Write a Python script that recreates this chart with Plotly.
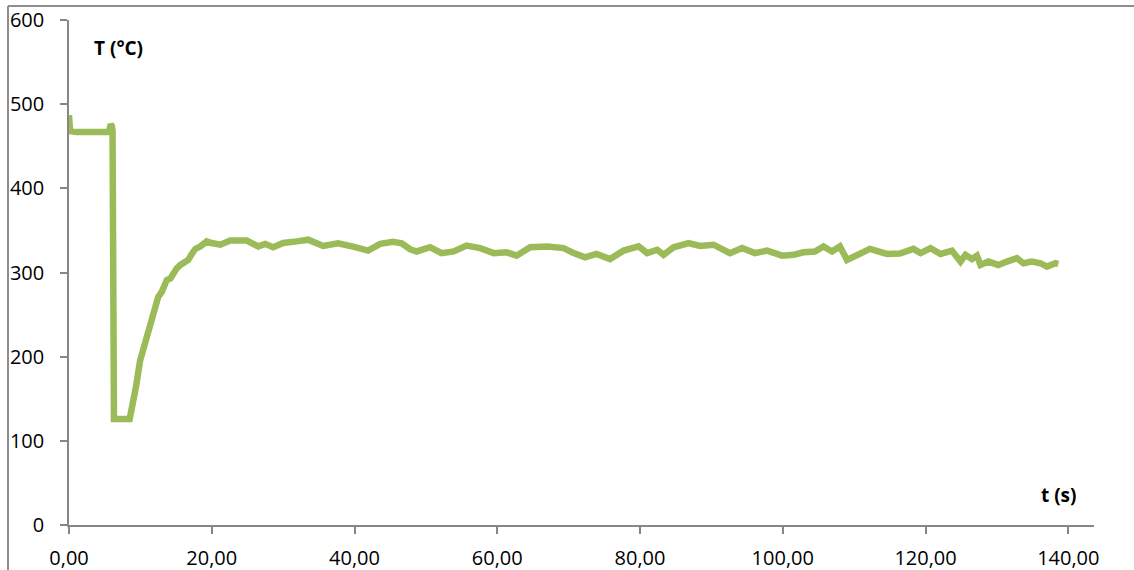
import plotly.graph_objects as go

# Time (s) and temperature (°C) of the recorded cooling curve
time_s = [
    0.0, 0.15, 1.0, 3.0, 5.6, 5.85, 6.0, 6.1, 6.3, 8.5, 8.9, 9.4, 9.95, 10.5,
    10.9, 11.3, 11.8, 12.2, 12.5, 13.0, 13.7, 14.2, 14.6, 15.1, 15.6, 16.2,
    16.7, 17.2, 17.7, 18.4, 19.0, 19.3, 20.0, 21.2, 22.6, 24.0, 24.9, 26.5,
    27.5, 28.6, 30.0, 31.9, 33.5, 35.6, 37.7, 39.8, 41.9, 43.6, 45.4, 46.6,
    47.8, 48.7, 50.6, 52.2, 53.9, 55.7, 57.6, 59.5, 61.3, 62.7, 64.6, 67.0,
    69.3, 70.7, 72.3, 73.9, 75.8, 77.7, 79.8, 81.0, 82.4, 83.3, 84.7, 86.8,
    88.4, 90.3, 92.6, 94.3, 96.1, 97.8, 99.9, 101.5, 102.9, 104.5, 105.7,
    106.9, 108.0, 109.0, 110.8, 112.2, 114.6, 116.4, 118.3, 119.3, 120.7,
    122.1, 123.7, 124.9, 125.6, 126.5, 127.2, 127.7, 128.8, 130.2, 131.4,
    132.8, 133.7, 134.9, 136.1, 137.0, 138.2, 138.6,
]
temp_c = [
    487, 468, 467, 467, 467, 476, 474, 468, 126, 126, 140, 165, 195, 212,
    224, 238, 252, 262, 271, 277, 291, 293, 300, 305, 309, 312,
    315, 322, 328, 331, 335, 337, 335, 333, 338, 337, 338, 331,
    334, 330, 335, 337, 339, 331.5, 334.7, 330.7, 326, 334, 336.6, 334.7,
    327.6, 325, 330, 323, 325, 332, 329, 323, 324, 320, 330, 331,
    329, 323, 318, 322, 316, 326, 331, 323, 327, 321, 330, 335,
    331.5, 333, 323, 329, 323, 326, 320, 321, 324, 325, 331,
    325, 331, 315, 322, 328, 322, 322.5, 328, 323, 329,
    322, 326, 313, 321, 316, 320, 309, 313, 309, 313,
    317, 311, 313, 311, 307, 311, 310,
]

x_ticks = [0, 20, 40, 60, 80, 100, 120, 140]
x_tick_text = ["0,00", "20,00", "40,00", "60,00", "80,00", "100,00", "120,00", "140,00"]
y_ticks = [0, 100, 200, 300, 400, 500, 600]

W, H = 1134, 570
L, R, T, B = 69, 40, 20, 45
plot_w = W - L - R
plot_h = H - T - B

def px_to_paper(px, py):
    return (px - L) / plot_w, (H - B - py) / plot_h

axis_color = "#868686"
font_family = "Open Sans, Lato, sans-serif"

fig = go.Figure()
fig.add_trace(go.Scatter(
    x=time_s, y=temp_c, mode="lines",
    line=dict(color="#9BBB59", width=6.5),
    hoverinfo="x+y", showlegend=False,
))

tx, ty = px_to_paper(118, 48)
sx, sy = px_to_paper(1059, 495)
bx, _ = px_to_paper(8, 0)
_, by = px_to_paper(0, 6)

fig.update_layout(
    width=W, height=H,
    margin=dict(l=L, r=R, t=T, b=B, pad=0, autoexpand=False),
    paper_bgcolor="white", plot_bgcolor="white",
    font=dict(family=font_family, size=20, color="#000000"),
    xaxis=dict(
        range=[0, 143.6], tickmode="array", tickvals=x_ticks, ticktext=x_tick_text,
        showgrid=False, zeroline=False, showline=True, linecolor=axis_color,
        linewidth=1.5, ticks="outside", ticklen=7, tickcolor=axis_color,
        tickwidth=1.5, ticklabelstandoff=7, automargin=False,
    ),
    yaxis=dict(
        range=[0, 600], tickmode="array", tickvals=y_ticks,
        showgrid=False, zeroline=False, showline=True, linecolor=axis_color,
        linewidth=1.5, ticks="outside", ticklen=7, tickcolor=axis_color,
        tickwidth=1.5, ticklabelstandoff=12, automargin=False,
    ),
    annotations=[
        dict(text="<b>T (°C)</b>", xref="paper", yref="paper", x=tx, y=ty,
             showarrow=False, xanchor="center", yanchor="middle",
             font=dict(size=19, family=font_family, color="#000000")),
        dict(text="<b>t (s)</b>", xref="paper", yref="paper", x=sx, y=sy,
             showarrow=False, xanchor="center", yanchor="middle",
             font=dict(size=19, family=font_family, color="#000000")),
    ],
    shapes=[
        dict(type="line", xref="paper", yref="paper", x0=bx, x1=bx, y0=-0.2, y1=by,
             line=dict(color="#8E8E8E", width=2)),
        dict(type="line", xref="paper", yref="paper", x0=bx, x1=1.2, y0=by, y1=by,
             line=dict(color="#8E8E8E", width=2)),
    ],
)

fig.write_html("out.html")
